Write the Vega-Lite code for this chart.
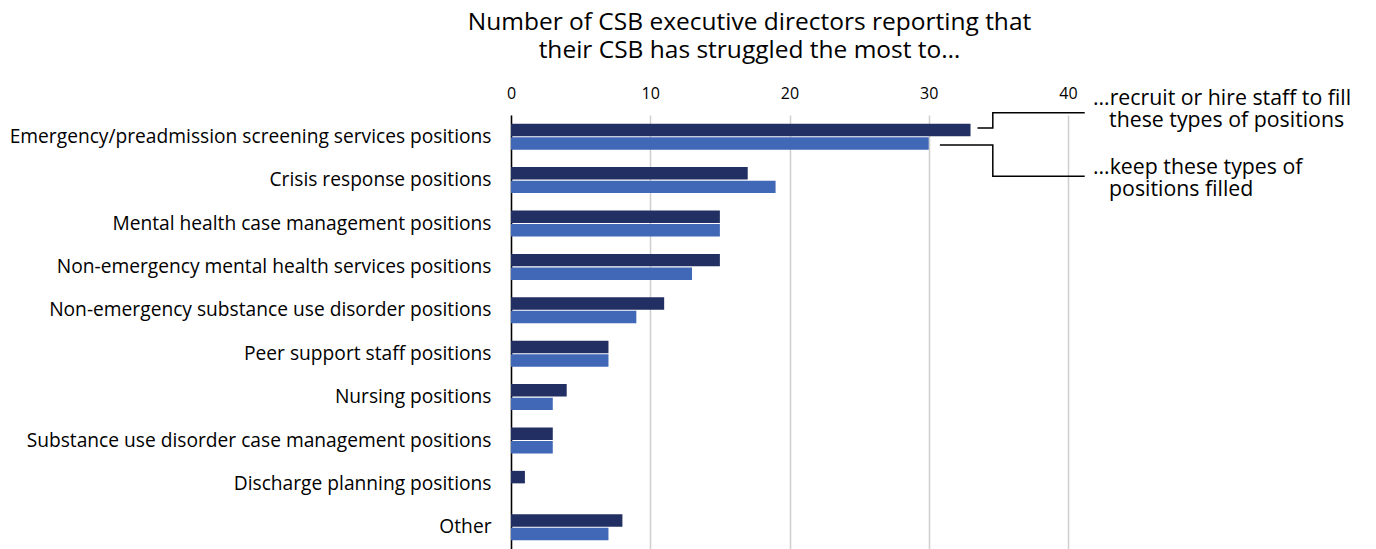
{
  "$schema": "https://vega.github.io/schema/vega-lite/v6.json",
  "width": 557,
  "height": 434,
  "autosize": {"type": "none"},
  "padding": {"left": 511, "top": 115, "right": 308, "bottom": 0},
  "background": "white",
  "config": {
    "font": "Open Sans",
    "view": {"stroke": null}
  },
  "title": {
    "text": ["Number of CSB executive directors reporting that", "their CSB has struggled the most to…"],
    "font": "Open Sans",
    "fontSize": 24.5,
    "fontWeight": "normal",
    "color": "#000000",
    "lineHeight": 28,
    "anchor": "middle",
    "dx": -40,
    "offset": 22
  },
  "datasets": {
    "bars": [
      {"position": "Emergency/preadmission screening services positions", "series": "recruit", "count": 33},
      {"position": "Emergency/preadmission screening services positions", "series": "keep", "count": 30},
      {"position": "Crisis response positions", "series": "recruit", "count": 17},
      {"position": "Crisis response positions", "series": "keep", "count": 19},
      {"position": "Mental health case management positions", "series": "recruit", "count": 15},
      {"position": "Mental health case management positions", "series": "keep", "count": 15},
      {"position": "Non-emergency mental health services positions", "series": "recruit", "count": 15},
      {"position": "Non-emergency mental health services positions", "series": "keep", "count": 13},
      {"position": "Non-emergency substance use disorder positions", "series": "recruit", "count": 11},
      {"position": "Non-emergency substance use disorder positions", "series": "keep", "count": 9},
      {"position": "Peer support staff positions", "series": "recruit", "count": 7},
      {"position": "Peer support staff positions", "series": "keep", "count": 7},
      {"position": "Nursing positions", "series": "recruit", "count": 4},
      {"position": "Nursing positions", "series": "keep", "count": 3},
      {"position": "Substance use disorder case management positions", "series": "recruit", "count": 3},
      {"position": "Substance use disorder case management positions", "series": "keep", "count": 3},
      {"position": "Discharge planning positions", "series": "recruit", "count": 1},
      {"position": "Discharge planning positions", "series": "keep", "count": 0},
      {"position": "Other", "series": "recruit", "count": 8},
      {"position": "Other", "series": "keep", "count": 7}
    ],
    "connectors": [
      {"connector": "recruit", "step": 1, "x": 33.5, "row": 0.30},
      {"connector": "recruit", "step": 2, "x": 34.6, "row": 0.30},
      {"connector": "recruit", "step": 3, "x": 34.6, "row": -0.05},
      {"connector": "recruit", "step": 4, "x": 41.2, "row": -0.05},
      {"connector": "keep", "step": 1, "x": 30.8, "row": 0.69},
      {"connector": "keep", "step": 2, "x": 34.6, "row": 0.69},
      {"connector": "keep", "step": 3, "x": 34.6, "row": 1.41},
      {"connector": "keep", "step": 4, "x": 41.2, "row": 1.41}
    ],
    "notes": [
      {"label": "…recruit or hire staff to fill", "x": 41.8, "row": -0.37},
      {"label": "these types of positions", "x": 42.95, "row": 0.14},
      {"label": "…keep these types of", "x": 41.8, "row": 1.21},
      {"label": "positions filled", "x": 42.95, "row": 1.72}
    ]
  },
  "layer": [
    {
      "data": {"name": "bars"},
      "mark": {"type": "bar"},
      "encoding": {
        "y": {
          "field": "position",
          "type": "nominal",
          "sort": null,
          "scale": {"paddingInner": 0.4, "paddingOuter": 0.2},
          "axis": {
            "title": null,
            "ticks": false,
            "domain": true,
            "domainColor": "#000000",
            "domainWidth": 1.5,
            "labelFont": "Open Sans",
            "labelFontSize": 19.2,
            "labelColor": "#000000",
            "labelPadding": 20,
            "labelLimit": 600
          }
        },
        "yOffset": {
          "field": "series",
          "type": "nominal",
          "sort": ["recruit", "keep"],
          "scale": {"paddingInner": 0.08}
        },
        "x": {
          "field": "count",
          "type": "quantitative",
          "scale": {"domain": [0, 40], "nice": false},
          "axis": {
            "orient": "top",
            "title": null,
            "values": [0, 10, 20, 30, 40],
            "ticks": false,
            "domain": false,
            "grid": true,
            "gridColor": "#cfcfcf",
            "gridWidth": 1.5,
            "labelFont": "Open Sans",
            "labelFontSize": 16,
            "labelColor": "#000000",
            "labelPadding": 14,
            "labelFlush": false
          }
        },
        "color": {
          "field": "series",
          "type": "nominal",
          "scale": {"domain": ["recruit", "keep"], "range": ["#222f62", "#4068b6"]},
          "legend": null
        }
      }
    },
    {
      "data": {"name": "connectors"},
      "mark": {"type": "line", "color": "#000000", "strokeWidth": 1.5, "clip": false},
      "encoding": {
        "x": {"field": "x", "type": "quantitative"},
        "y": {"field": "row", "type": "quantitative", "scale": {"domain": [0, 10], "reverse": true, "nice": false, "zero": false}, "axis": null},
        "detail": {"field": "connector", "type": "nominal"},
        "order": {"field": "step", "type": "quantitative"}
      }
    },
    {
      "data": {"name": "notes"},
      "mark": {"type": "text", "align": "left", "baseline": "middle", "font": "Open Sans", "fontSize": 21.3, "color": "#000000", "clip": false},
      "encoding": {
        "x": {"field": "x", "type": "quantitative"},
        "y": {"field": "row", "type": "quantitative", "scale": {"domain": [0, 10], "reverse": true, "nice": false, "zero": false}, "axis": null},
        "text": {"field": "label", "type": "nominal"}
      }
    }
  ],
  "resolve": {"scale": {"y": "independent"}}
}
